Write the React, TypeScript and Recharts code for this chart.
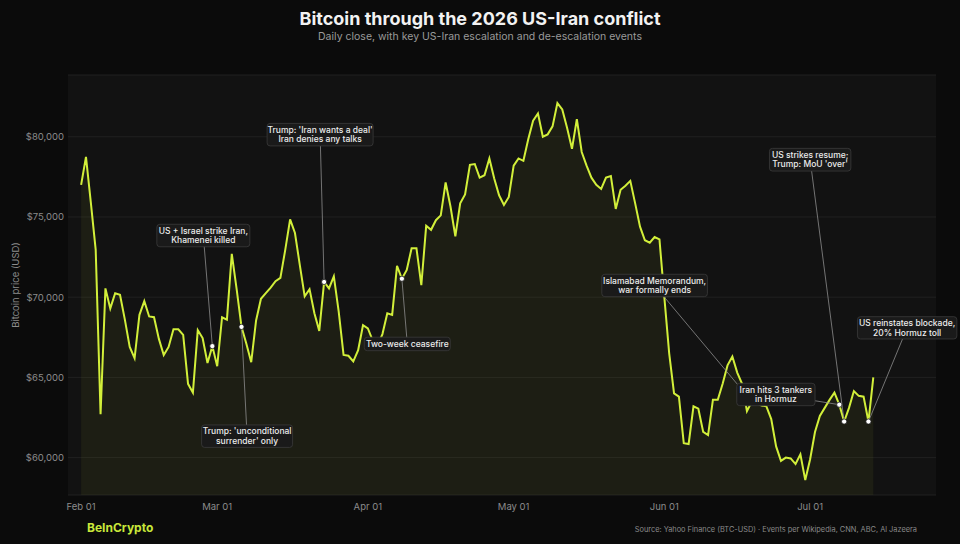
import React from 'react';
import { ComposedChart, Area, XAxis, YAxis, CartesianGrid, ReferenceDot } from 'recharts';

const START = '2026-02-01';

// daily close, BTC-USD, Feb 01 -> Jul 14
const prices = [
  77000, 78750, 75900, 72950, 62700, 70550, 69300, 70250, 70150, 68600,
  66900, 66200, 68900, 69750, 68800, 68750, 67400, 66400, 66900, 68000,
  68000, 67650, 64600, 64050, 67950, 67450, 65900, 66950, 65700, 68750,
  68600, 72700, 70500, 68150, 67100, 65950, 68550, 69900, 70250, 70600,
  71000, 71200, 72950, 74850, 74000, 72000, 70050, 70500, 69000, 67900,
  70950, 70550, 71300, 69100, 66400, 66350, 66000, 66700, 68250, 68050,
  67300, 67000, 67700, 69000, 68900, 71950, 71150, 71700, 73050, 73050,
  70750, 74450, 74200, 74800, 75100, 77150, 75650, 73800, 75850, 76400,
  78250, 78300, 77450, 77600, 78650, 77400, 76350, 75750, 76250, 78200,
  78650, 78500, 79850, 81000, 81450, 80000, 80150, 80650, 82100, 81700,
  80550, 79250, 81100, 79050, 78200, 77450, 77000, 76750, 77450, 77550,
  75500, 76700, 76950, 77250, 75850, 74400, 73550, 73400, 73750, 73600,
  70000, 66500, 64000, 63800, 60900, 60850, 63200, 63050, 61600, 61400,
  63600, 63600, 64600, 65750, 66300, 65300, 64600, 62900, 63500, 63400,
  63250, 63200, 62400, 60700, 59800, 60000, 59950, 59600, 60200, 58600,
  59900, 61600, 62600, 63100, 63600, 64050, 63300, 62250, 63100, 64150,
  63850, 63800, 62250, 65000,
];

const tickDates = ['2026-02-01', '2026-03-01', '2026-04-01', '2026-05-01', '2026-06-01', '2026-07-01'];
const tickLabels = ['Feb 01', 'Mar 01', 'Apr 01', 'May 01', 'Jun 01', 'Jul 01'];
const priceTicks = [60000, 65000, 70000, 75000, 80000];

const events = [
  { date: '2026-02-28', text: ['US + Israel strike Iran,', 'Khamenei killed'] },
  { date: '2026-03-06', text: ["Trump: 'unconditional", "surrender' only"] },
  { date: '2026-03-23', text: ["Trump: 'Iran wants a deal'", 'Iran denies any talks'] },
  { date: '2026-04-08', text: ['Two-week ceasefire'] },
  { date: '2026-06-19', text: ['Islamabad Memorandum,', 'war formally ends'] },
  { date: '2026-07-07', text: ['Iran hits 3 tankers', 'in Hormuz'] },
  { date: '2026-07-08', text: ['US strikes resume;', "Trump: MoU 'over'"] },
  { date: '2026-07-13', text: ['US reinstates blockade,', '20% Hormuz toll'] },
];

// where each label box sits, in px from its marker
const boxLayout = [
  { dx: -9, dy: -110.6, w: 93, h: 22.5 },
  { dx: 5.6, dy: 109.3, w: 91, h: 22.5 },
  { dx: -4, dy: -147.3, w: 106, h: 22.5 },
  { dx: 5.4, dy: 65.2, w: 86, h: 13.5 },
  { dx: -97.2, dy: -116, w: 105.6, h: 22.4 },
  { dx: -63.4, dy: -10.2, w: 78.3, h: 22.4 },
  { dx: -34, dy: -261.8, w: 81.4, h: 22.7 },
  { dx: 38.7, dy: -93.7, w: 99.4, h: 22.3 },
];

const LIME = '#d2ef3a';
const FONT = 'Inter, "Noto Sans", sans-serif';

const dayOf = (d: string) => Math.round((Date.parse(d) - Date.parse(START)) / 86400000);
const data = prices.map((price, day) => ({ day, price }));
const tickDays = tickDates.map(dayOf);

function EventMarker(props: any) {
  const { cx, cy, ev, box } = props;
  if (cx == null || cy == null) return null;
  const bx = cx + box.dx;
  const by = cy + box.dy;
  const lh = 9.4;
  return (
    <g>
      <line x1={bx} y1={by} x2={cx} y2={cy} stroke="#8d8d8d" strokeWidth={0.8} />
      <circle cx={cx} cy={cy} r={2.6} fill="#ffffff" stroke="#151515" strokeWidth={0.8} />
      <rect
        x={bx - box.w / 2}
        y={by - box.h / 2}
        width={box.w}
        height={box.h}
        rx={3}
        fill="#1a1a1a"
        stroke="#3b3b3b"
        strokeWidth={0.8}
      />
      {ev.text.map((t: string, i: number) => (
        <text
          key={i}
          x={bx}
          y={by + (i - (ev.text.length - 1) / 2) * lh}
          textAnchor="middle"
          dominantBaseline="central"
          fontSize={8.5}
          fontWeight={500}
          fill="#ececec"
          fontFamily={FONT}
        >
          {t}
        </text>
      ))}
    </g>
  );
}

export default function App() {
  return (
    <div
      style={{
        position: 'absolute',
        left: 0,
        top: 0,
        width: 960,
        height: 544,
        background: '#0b0b0b',
        fontFamily: FONT,
        overflow: 'hidden',
      }}
    >
      <div style={{ position: 'absolute', top: 8, width: 960, textAlign: 'center', color: '#f2f2f2', fontSize: 18, fontWeight: 700 }}>
        Bitcoin through the 2026 US-Iran conflict
      </div>
      <div style={{ position: 'absolute', top: 30, width: 960, textAlign: 'center', color: '#9a9a9a', fontSize: 10.5 }}>
        Daily close, with key US-Iran escalation and de-escalation events
      </div>
      <div
        style={{
          position: 'absolute',
          left: 15,
          top: 285,
          transform: 'translate(-50%, -50%) rotate(-90deg)',
          color: '#8c8c8c',
          fontSize: 9.5,
          whiteSpace: 'nowrap',
        }}
      >
        Bitcoin price (USD)
      </div>

      <div style={{ position: 'absolute', left: 0, top: 0 }}>
        <ComposedChart width={960} height={544} data={data} margin={{ top: 75, right: 24, bottom: 19, left: 0 }}>
          <CartesianGrid vertical={false} fill="#121212" stroke="#202020" strokeWidth={1} />
          <XAxis
            dataKey="day"
            type="number"
            domain={[-2.7, 175.9]}
            allowDataOverflow
            ticks={tickDays}
            tickFormatter={(v: number) => tickLabels[tickDays.indexOf(v)] ?? ''}
            axisLine={false}
            tickLine={false}
            tickSize={0}
            tickMargin={8}
            height={30}
            tick={{ fill: '#8c8c8c', fontSize: 9.5, fontFamily: FONT }}
          />
          <YAxis
            type="number"
            domain={[57670, 83850]}
            allowDataOverflow
            ticks={priceTicks}
            tickFormatter={(v: number) => '$' + v.toLocaleString('en-US')}
            axisLine={false}
            tickLine={false}
            tickSize={0}
            tickMargin={4}
            width={68}
            tick={{ fill: '#8c8c8c', fontSize: 9.5, fontFamily: FONT }}
          />
          <Area
            type="linear"
            dataKey="price"
            stroke={LIME}
            strokeWidth={2}
            fill={LIME}
            fillOpacity={0.055}
            dot={false}
            activeDot={false}
            isAnimationActive={false}
          />
          {events.map((ev, i) => {
            const d = dayOf(ev.date);
            return (
              <ReferenceDot
                key={ev.date}
                x={d}
                y={prices[d]}
                r={3}
                shape={(p: any) => <EventMarker {...p} ev={ev} box={boxLayout[i]} />}
              />
            );
          })}
        </ComposedChart>
      </div>

      <div style={{ position: 'absolute', left: 87, top: 520, color: '#c9e83a', fontSize: 12, fontWeight: 700 }}>
        BeInCrypto
      </div>
      <div style={{ position: 'absolute', right: 43, top: 525, color: '#8a8a8a', fontSize: 7.4 }}>
        Source: Yahoo Finance (BTC-USD) · Events per Wikipedia, CNN, ABC, Al Jazeera
      </div>
    </div>
  );
}
